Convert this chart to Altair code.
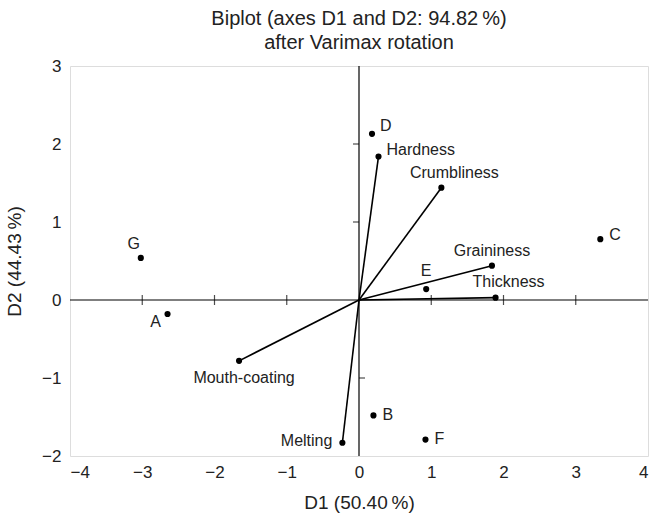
import altair as alt
import pandas as pd

# Observations (products)
obs_names = ["A", "B", "C", "D", "E", "F", "G"]
obs_d1 = [-2.65, 0.20, 3.34, 0.18, 0.93, 0.92, -3.02]
obs_d2 = [-0.18, -1.48, 0.78, 2.13, 0.14, -1.79, 0.54]

# Variables (attributes)
var_names = ["Hardness", "Crumbliness", "Graininess", "Thickness", "Mouth-coating", "Melting"]
var_d1 = [0.27, 1.14, 1.84, 1.89, -1.66, -0.23]
var_d2 = [1.84, 1.44, 0.44, 0.03, -0.78, -1.83]

# Axis ticks
x_ticks = [-4, -3, -2, -1, 0, 1, 2, 3, 4]
y_ticks = [-2, -1, 0, 1, 2, 3]
x_inner_ticks = [-3, -2, -1, 1, 2, 3]
y_inner_ticks_left = [1, 2]
y_inner_ticks_right = [-1]

FONT = "Liberation Sans"

obs_df = pd.DataFrame({"name": obs_names, "d1": obs_d1, "d2": obs_d2})
var_df = pd.DataFrame({"name": var_names, "d1": var_d1, "d2": var_d2})
var_df["o1"] = 0.0
var_df["o2"] = 0.0

xs = alt.Scale(domain=[-4, 4], nice=False, zero=False)
ys = alt.Scale(domain=[-2, 3], nice=False, zero=False)

x_axis = alt.Axis(values=x_ticks, format="d", ticks=False, domain=False, grid=False,
                  labelPadding=8, titlePadding=13, labelFontSize=17,
                  titleFontSize=19, titleFontWeight="normal", labelColor="#222",
                  titleColor="#222", labelFont=FONT, titleFont=FONT)
y_axis = alt.Axis(values=y_ticks, format="d", ticks=False, domain=False, grid=False,
                  labelPadding=9, titlePadding=17, labelFontSize=17,
                  titleFontSize=19, titleFontWeight="normal", labelColor="#222",
                  titleColor="#222", labelFont=FONT, titleFont=FONT)

base_x = alt.X("d1:Q", scale=xs, axis=x_axis, title="D1 (50.40\u2009%)")
base_y = alt.Y("d2:Q", scale=ys, axis=y_axis, title="D2 (44.43\u2009%)")

# zero lines
zero_df = pd.DataFrame({"v": [0]})
hline = alt.Chart(zero_df).mark_rule(color="black", strokeWidth=1.2).encode(
    y=alt.Y("v:Q", scale=ys))
vline = alt.Chart(zero_df).mark_rule(color="black", strokeWidth=1.2).encode(
    x=alt.X("v:Q", scale=xs))

xt_df = pd.DataFrame({"t": x_inner_ticks, "z": [0] * len(x_inner_ticks)})
xticks = alt.Chart(xt_df).mark_tick(color="black", orient="vertical", size=10, thickness=1.2).encode(
    x=alt.X("t:Q", scale=xs), y=alt.Y("z:Q", scale=ys))
ytl_df = pd.DataFrame({"t": y_inner_ticks_left, "z": [0] * len(y_inner_ticks_left)})
yticks_l = alt.Chart(ytl_df).mark_tick(color="black", orient="horizontal", size=6,
                                       thickness=1.2, xOffset=-3).encode(
    y=alt.Y("t:Q", scale=ys), x=alt.X("z:Q", scale=xs))
ytr_df = pd.DataFrame({"t": y_inner_ticks_right, "z": [0] * len(y_inner_ticks_right)})
yticks_r = alt.Chart(ytr_df).mark_tick(color="black", orient="horizontal", size=6,
                                       thickness=1.2, xOffset=3).encode(
    y=alt.Y("t:Q", scale=ys), x=alt.X("z:Q", scale=xs))

vectors = alt.Chart(var_df).mark_rule(color="black", strokeWidth=1.6).encode(
    x=alt.X("o1:Q", scale=xs), y=alt.Y("o2:Q", scale=ys), x2="d1:Q", y2="d2:Q")

var_pts = alt.Chart(var_df).mark_circle(color="black", opacity=1, size=38).encode(
    x=base_x, y=base_y)
obs_pts = alt.Chart(obs_df).mark_circle(color="black", opacity=1, size=38).encode(
    x=base_x, y=base_y)

# label placement style: (align, dx, dy)
label_style = {
    "A": ("center", -12, 8),
    "B": ("left", 9, 0),
    "C": ("left", 9, -4),
    "D": ("left", 8, -8),
    "E": ("center", 0, -18),
    "F": ("left", 9, -1),
    "G": ("center", -7, -14),
    "Hardness": ("left", 8, -6),
    "Crumbliness": ("center", 13, -15),
    "Graininess": ("center", 0, -15),
    "Thickness": ("center", 13, -16),
    "Mouth-coating": ("center", 5, 17),
    "Melting": ("right", -10, -2),
}

label_layers = []
all_df = pd.concat([obs_df, var_df[["name", "d1", "d2"]]], ignore_index=True)
for nm, (al, dx, dy) in label_style.items():
    sub = all_df[all_df["name"] == nm]
    label_layers.append(
        alt.Chart(sub).mark_text(align=al, baseline="middle", dx=dx, dy=dy,
                                 font=FONT, fontSize=16, color="#222").encode(
            x=alt.X("d1:Q", scale=xs), y=alt.Y("d2:Q", scale=ys), text="name:N"))

chart = alt.layer(
    hline, vline, xticks, yticks_l, yticks_r, vectors, var_pts, obs_pts, *label_layers
).properties(
    width=578, height=390,
    title=alt.TitleParams(text=["Biplot (axes D1 and D2: 94.82\u2009%)", "after Varimax rotation"],
                          anchor="middle", font=FONT, fontSize=20, fontWeight="normal",
                          lineHeight=24, offset=4, color="#222"),
    autosize=alt.AutoSizeParams(type="none"),
    padding={"left": 70, "top": 66, "right": 9, "bottom": 60},
).configure_view(stroke="black", strokeWidth=1.2).configure(background="white")

chart.save("out.html", embed_options={"renderer": "svg", "actions": False})
